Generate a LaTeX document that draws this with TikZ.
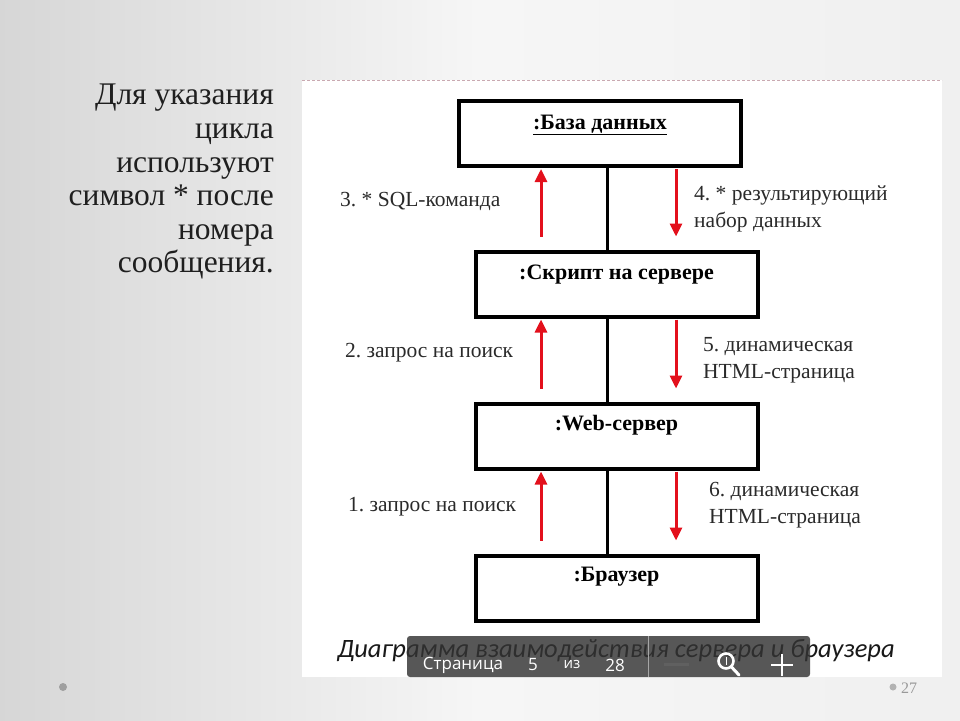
\documentclass[tikz,border=0pt]{standalone}
\usepackage{fontspec}
\setmainfont{Liberation Serif}
\newfontfamily\capfont{Carlito}
\newfontfamily\uifont{Open Sans}
\usetikzlibrary{arrows.meta,calc}
\definecolor{dashc}{HTML}{C9A9B1}
\definecolor{arrred}{HTML}{E3101C}
\definecolor{labc}{HTML}{2A2A2A}
\definecolor{barc}{HTML}{333333}
\frenchspacing
\begin{document}
\begin{tikzpicture}[x=1pt,y=-1pt,
  objbox/.style={draw=black,line width=4pt,fill=white,minimum width=282pt,minimum height=65pt,inner sep=0pt},
  objname/.style={font=\fontsize{22}{24}\selectfont\bfseries,inner sep=0pt},
  lifeline/.style={line width=3pt,black},
  msg/.style={line width=3pt,arrred,-{Triangle[length=13pt,width=12pt]}},
  msglab/.style={font=\fontsize{21.5}{26.5}\selectfont,text=labc,anchor=west,align=left,inner sep=0pt},
  uitext/.style={font=\uifont\fontsize{17}{19}\selectfont,text=white,inner sep=0pt}
]
\useasboundingbox (0,0) rectangle (960,720);
\shade[left color=gray!32,right color=gray!12,middle color=gray!7] (0,0) rectangle (960,720);
% left text
\node[anchor=north east,align=right,inner sep=0pt,text=black!88,
  font=\fontsize{31.5}{33.6}\selectfont] (side) at (274,84)
  {Для указания\\цикла\\используют\\символ * после\\номера\\сообщения.};
% panel
\fill[white] (302,80) rectangle (942,677);
\draw[dashc,line width=1pt,dash pattern=on 3pt off 2pt] (302,80) -- (942,80);
% boxes
\node[objbox] (db) at (600,133.5) {};
\node[objbox] (sc) at (616.5,284) {};
\node[objbox] (ws) at (616.5,436) {};
\node[objbox] (br) at (616.5,588) {};
\node[objname] (dbl) at (600,125) {\underline{:База данных}};
\node[objname] (scl) at (616.5,275) {:Скрипт на сервере};
\node[objname] (wsl) at (616.5,425) {:Web-сервер};
\node[objname] (brl) at (616.5,577) {:Браузер};
% lifelines
\coordinate (ll) at (607,0);
\draw[lifeline] (db.south -| ll) -- (sc.north -| ll);
\draw[lifeline] (sc.south -| ll) -- (ws.north -| ll);
\draw[lifeline] (ws.south -| ll) -- (br.north -| ll);
% message arrows
\coordinate (ux) at (541,0);
\coordinate (dx) at (676,0);
\draw[msg] ($(sc.north -| ux)+(0,-13)$) -- ($(db.south -| ux)+(0,1)$);
\draw[msg] ($(db.south -| dx)+(0,1)$) -- ($(sc.north -| dx)+(0,-13)$);
\draw[msg] ($(ws.north -| ux)+(0,-13)$) -- ($(sc.south -| ux)+(0,1)$);
\draw[msg] ($(sc.south -| dx)+(0,1)$) -- ($(ws.north -| dx)+(0,-13)$);
\draw[msg] ($(br.north -| ux)+(0,-13)$) -- ($(ws.south -| ux)+(0,1)$);
\draw[msg] ($(ws.south -| dx)+(0,1)$) -- ($(br.north -| dx)+(0,-13)$);
% labels
\node[msglab] (m3) at (340,201) {3. * SQL-команда};
\node[msglab] (m4) at (694,209) {4. * результирующий\\набор данных};
\node[msglab] (m2) at (345,353) {2. запрос на поиск};
\node[msglab] (m5) at (703,360) {5. динамическая\\HTML-страница};
\node[msglab] (m1) at (348,507) {1. запрос на поиск};
\node[msglab] (m6) at (709,505) {6. динамическая\\HTML-страница};
% caption
\node[font=\capfont\itshape\fontsize{26.5}{28}\selectfont,inner sep=0pt,text=black!90] (cap) at (616,651)
  {Диаграмма взаимодействия сервера и браузера};
% toolbar overlay
\fill[barc,opacity=0.82,rounded corners=3pt] (407,636) rectangle (810,677);
\draw[gray!70,line width=0.6pt] (648,636) -- (648,677);
\node[uitext] (pg) at (463,665) {Страница};
\node[uitext] (pn) at (533,665) {5};
\node[uitext,font=\uifont\fontsize{15}{17}\selectfont] (pof) at (572,664) {из};
\node[uitext] (pt) at (615,665) {28};
\draw[gray!75!black,line width=3pt] (664,664) -- (689,664);
\draw[white,line width=2.6pt] (726,661) circle (7.5pt);
\draw[white,line width=3pt,line cap=round] (731.5,667) -- (739,675);
\draw[white,line width=1pt] (726,657) -- (726,665);
\draw[white,line width=2.8pt] (771,665) -- (793,665) (782,654) -- (782,676);
% footer
\fill[gray!75] (63,687) circle (4pt);
\fill[gray!60] (893,687) circle (3.5pt);
\node[font=\fontsize{16}{18}\selectfont,text=gray!80,inner sep=0pt,anchor=west] (pnum) at (901,688) {27};
\end{tikzpicture}
\end{document}
